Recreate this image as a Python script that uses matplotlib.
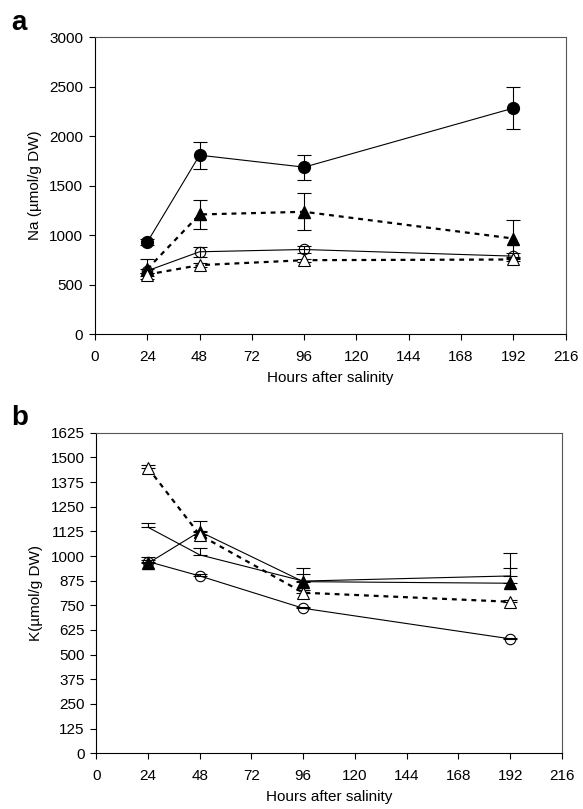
import matplotlib.pyplot as plt

plt.rcParams['font.family'] = ['Liberation Sans', 'DejaVu Sans']
plt.rcParams['font.size'] = 11

hours = [24, 48, 96, 192]

# panel a: Na
na_fc = [930, 1808, 1687, 2283]
na_fc_err = [30, 135, 125, 212]
na_ft = [657, 1209, 1236, 966]
na_ft_err = [100, 150, 185, 190]
na_oc = [640, 832, 855, 788]
na_oc_err = [20, 50, 40, 30]
na_ot = [602, 697, 747, 754]
na_ot_err = [15, 20, 15, 15]

# panel b: K
k_fc = [1146, 1006, 873, 899]
k_fc_err = [21, 34, 36, 118]
k_ft = [963, 1124, 870, 862]
k_ft_err = [30, 56, 71, 76]
k_oc = [972, 899, 735, 580]
k_oc_err = [8, 8, 5, 5]
k_ot = [1447, 1107, 814, 768]
k_ot_err = [15, 20, 15, 10]

fig = plt.figure(figsize=(5.83, 8.09), dpi=100)
ax1 = fig.add_axes([0.163, 0.587, 0.807, 0.367])
ax2 = fig.add_axes([0.165, 0.069, 0.799, 0.396])

eb = dict(ecolor='black', elinewidth=0.8, capsize=5, capthick=0.8)
dash = (0, (2.2, 2.2))

ax1.errorbar(hours, na_fc, yerr=na_fc_err, color='black', lw=0.8, marker='o',
             ms=8.5, mfc='black', mec='black', **eb)
ax1.errorbar(hours, na_ft, yerr=na_ft_err, color='black', lw=1.6, ls=dash, marker='^',
             ms=8, mfc='black', mec='black', **eb)
ax1.errorbar(hours, na_oc, yerr=na_oc_err, color='black', lw=0.8, marker='o',
             ms=7.5, mfc='none', mec='black', mew=0.8, **eb)
ax1.errorbar(hours, na_ot, yerr=na_ot_err, color='black', lw=1.6, ls=dash, marker='^',
             ms=8, mfc='white', mec='black', mew=0.8, **eb)

up = lambda e: [[0] * len(e), e]
ax2.errorbar(hours, k_fc, yerr=up(k_fc_err), color='black', lw=0.8, **eb)
ax2.errorbar(hours, k_ft, yerr=up(k_ft_err), color='black', lw=0.8, marker='^',
             ms=8, mfc='black', mec='black', **eb)
ax2.errorbar(hours, k_oc, yerr=up(k_oc_err), color='black', lw=0.8, marker='o',
             ms=7.5, mfc='none', mec='black', mew=0.8, **eb)
ax2.errorbar(hours, k_ot, yerr=up(k_ot_err), color='black', lw=1.6, ls=dash, marker='^',
             ms=8, mfc='white', mec='black', mew=0.8, **eb)

for ax in (ax1, ax2):
    ax.set_xlim(0, 216)
    ax.set_xticks(range(0, 217, 24))
    ax.tick_params(direction='out', length=4.5, width=0.8, colors='black')
    ax.tick_params(axis='x', pad=7)
    ax.tick_params(axis='y', pad=4)
    ax.set_xlabel('Hours after salinity', labelpad=5)
    for s in ('top', 'right'):
        ax.spines[s].set_color('#555555')
        ax.spines[s].set_linewidth(0.8)
    for s in ('left', 'bottom'):
        ax.spines[s].set_linewidth(0.8)

ax1.set_ylim(0, 3000)
ax1.set_yticks(range(0, 3001, 500))
ax1.set_ylabel('Na (µmol/g DW)', labelpad=5)

ax2.set_ylim(0, 1625)
ax2.set_yticks(range(0, 1626, 125))
ax2.set_ylabel('K(µmol/g DW)', labelpad=5)

fig.text(0.02, 0.963, 'a', fontsize=20, fontweight='bold')
fig.text(0.02, 0.475, 'b', fontsize=20, fontweight='bold')

fig.savefig('out.png', dpi=100)
